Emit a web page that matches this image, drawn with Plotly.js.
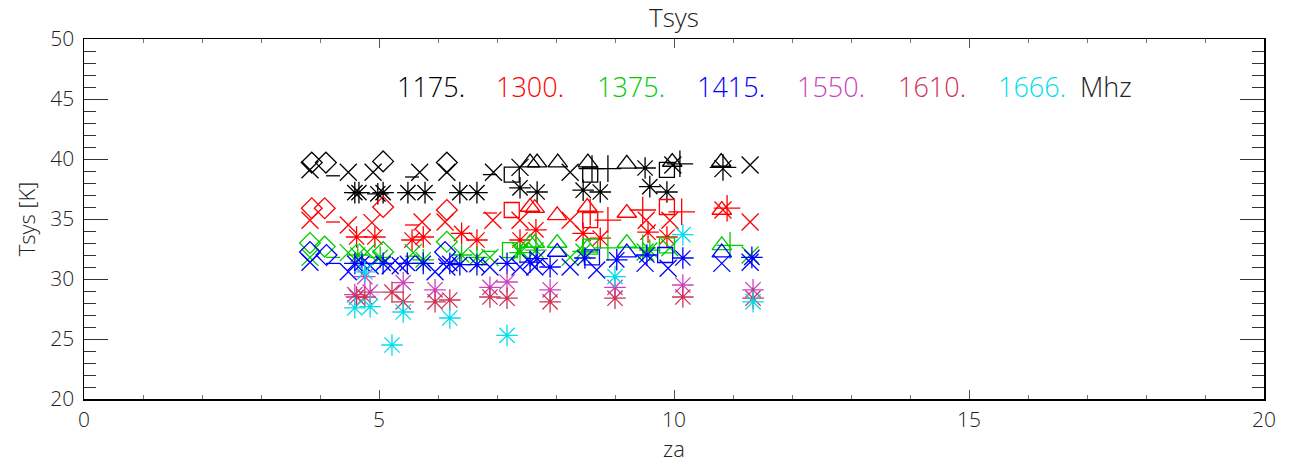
<!DOCTYPE html>
<html>
<head>
<meta charset="utf-8">
<script src="https://cdn.plot.ly/plotly-3.0.1.min.js"></script>
<style>
html,body{margin:0;padding:0;background:#fff;}
#chart{width:1291px;height:466px;}
</style>
</head>
<body>
<div id="chart"></div>
<script>
// ---- data (za in deg, Tsys in K); group codes: D diamond, X cross, A asterisk, S square, T triangle, P plus, M dash
const freqs = ["1175.", "1300.", "1375.", "1415.", "1550.", "1610.", "1666."];
const freqColors = ["#000000", "#ff0000", "#00cc00", "#0000ff", "#cc44bb", "#cc3355", "#00ddee"];

const za_1175 = [3.86,4.10,5.07,6.15, 3.83,4.48,4.90,5.69,6.15,6.94,7.39,8.24,9.98,10.83,11.29, 4.22,5.56,6.88, 4.59,4.66,4.98,5.07,5.49,5.78,6.37,6.66,7.39,7.68,8.46,8.75,9.59,9.88,9.51, 7.25,8.58,9.88, 7.56,7.68,8.03,8.54,9.2,9.97,10.8, 8.61,8.88,10.1,10.83];
const tsys_1175 = [39.7,39.7,39.8,39.7, 39.1,38.9,38.9,38.9,38.9,38.9,39.3,38.9,39.5,39.2,39.5, 38.6,38.5,38.7, 37.2,37.2,37.1,37.2,37.2,37.2,37.2,37.2,37.6,37.25,37.4,37.25,37.7,37.25,39.25, 38.7,38.7,39.1, 39.7,39.7,39.7,39.7,39.6,39.75,39.75, 39.2,39.2,39.6,39.3];
const grp_1175 = ["D","D","D","D", "X","X","X","X","X","X","X","X","X","X","X", "M","M","M", "A","A","A","A","A","A","A","A","A","A","A","A","A","A","A", "S","S","S", "T","T","T","T","T","T","T", "P","P","P","P"];

const za_1300 = [3.86,4.08,5.07,6.15, 3.83,4.48,4.88,5.73,6.12,6.93,7.39,8.24,9.53,9.93,10.83,11.29, 4.22,5.56,6.88, 4.62,4.93,5.56,5.75,6.4,6.66,7.39,7.66,8.46,8.75,9.56,9.88, 7.25,8.58,9.88, 7.56,7.64,8.02,8.53,9.2,10.81, 8.58,8.88,9.47,10.13,10.9];
const tsys_1300 = [35.9,35.9,36.0,35.75, 34.9,34.5,34.7,34.75,34.75,34.9,34.9,34.9,34.9,34.9,35.75,34.75, 34.75,34.5,35.5, 33.5,33.5,33.25,33.5,33.8,33.25,33.25,34.1,33.8,33.4,33.9,33.5, 35.75,34.9,36.0, 36.0,35.9,35.3,36.0,35.5,35.75, 35.6,34.9,35.75,35.6,35.9];
const grp_1300 = ["D","D","D","D", "X","X","X","X","X","X","X","X","X","X","X","X", "M","M","M", "A","A","A","A","A","A","A","A","A","A","A","A", "S","S","S", "T","T","T","T","T","T", "P","P","P","P","P"];

const za_1375 = [3.83,4.08,5.07,6.15, 3.83,4.48,4.80,5.58,6.88,7.39,8.24,9.51,9.93,11.29, 4.22,5.56,6.88, 4.64,5.02,5.75,6.4,6.66,7.39,7.66,8.46,9.59, 7.22,8.58,9.88, 7.56,7.64,8.02,8.53,9.2,10.81, 8.88,9.47,10.95];
const tsys_1375 = [33.0,32.7,32.25,33.1, 31.8,32.2,32.25,32.2,31.8,32.4,31.8,32.25,32.6,32.0, 31.8,31.9,32.3, 32.0,31.8,31.6,32.0,31.8,32.2,32.4,32.3,32.4, 32.4,32.7,32.8, 33.0,33.0,33.0,32.6,33.0,32.8, 32.6,32.6,32.8];
const grp_1375 = ["D","D","D","D", "X","X","X","X","X","X","X","X","X","X", "M","M","M", "A","A","A","A","A","A","A","A","A", "S","S","S", "T","T","T","T","T","T", "P","P","P"];

const za_1415 = [3.83,4.11,6.12, 3.83,4.48,4.85,5.19,5.36,5.95,6.15,6.88,7.39,7.64,8.24,8.69,9.51,9.90,10.81,11.29, 4.22, 4.59,4.71,5.07,5.48,5.75,6.2,6.37,6.66,7.17,7.56,7.68,7.9,8.49,9.03,9.54,10.15,11.32, 8.61,9.85, 8.02,9.2,10.81];
const tsys_1415 = [32.25,32.0,32.25, 31.4,30.6,31.1,31.1,31.1,30.6,31.0,31.0,31.0,31.0,31.0,30.75,31.3,30.9,31.3,31.4, 31.3, 31.3,31.3,31.3,31.3,31.3,31.3,31.2,31.2,31.3,31.4,31.7,31.0,31.75,31.6,32.0,31.75,31.8, 31.8,32.0, 32.25,32.2,32.2];
const grp_1415 = ["D","D","D", "X","X","X","X","X","X","X","X","X","X","X","X","X","X","X","X", "M", "A","A","A","A","A","A","A","A","A","A","A","A","A","A","A","A","A", "S","S", "T","T","T"];

const za_1550 = [4.59,4.76,4.85,5.41,5.95,6.88,7.17,7.9,9.0,10.15,11.34];
const tsys_1550 = [28.7,30.2,28.9,29.7,29.1,29.3,29.75,29.1,29.3,29.5,29.1];
const grp_1550 = ["A","A","A","A","A","A","A","A","A","A","A"];

const za_1610 = [4.62,4.76,5.22,5.41,5.95,6.2,6.88,7.17,7.9,9.0,10.15,11.34];
const tsys_1610 = [28.5,28.5,28.9,28.1,28.1,28.25,28.5,28.4,28.1,28.4,28.5,28.4];
const grp_1610 = ["A","A","A","A","A","A","A","A","A","A","A","A"];

const za_1666 = [4.59,4.76,4.85,5.22,5.41,6.2,7.17,9.0,10.15,11.34];
const tsys_1666 = [27.6,30.6,27.7,24.5,27.25,26.75,25.3,30.2,33.7,28.1];
const grp_1666 = ["A","A","A","A","A","A","A","A","A","A"];

const xTickVals = [0, 5, 10, 15, 20];
const yTickVals = [20, 25, 30, 35, 40, 45, 50];

// ---- build traces
const series = [
  [za_1175, tsys_1175, grp_1175],
  [za_1300, tsys_1300, grp_1300],
  [za_1375, tsys_1375, grp_1375],
  [za_1415, tsys_1415, grp_1415],
  [za_1550, tsys_1550, grp_1550],
  [za_1610, tsys_1610, grp_1610],
  [za_1666, tsys_1666, grp_1666]
];
const symStyle = {
  D: {symbol: "diamond-open", size: 16},
  X: {symbol: "x-thin-open", size: 17},
  A: {symbol: "asterisk-open", size: 18},
  S: {symbol: "square-open", size: 15},
  T: {symbol: "triangle-up-open", size: 17},
  P: {symbol: "cross-thin-open", size: 19},
  M: {symbol: "line-ew-open", size: 10}
};
const traces = [];
series.forEach((s, i) => {
  const [xs, ys, gs] = s;
  Object.keys(symStyle).forEach(g => {
    const xx = [], yy = [];
    gs.forEach((v, k) => { if (v === g) { xx.push(xs[k]); yy.push(ys[k]); } });
    if (!xx.length) return;
    traces.push({
      x: xx, y: yy, type: "scatter", mode: "markers",
      name: freqs[i] + " " + g, showlegend: false, hoverinfo: "x+y",
      marker: {symbol: symStyle[g].symbol, size: symStyle[g].size, color: freqColors[i],
               line: {color: freqColors[i], width: 1.3}}
    });
  });
});

const FONT = "Open Sans, Liberation Sans, sans-serif";
const TXT = "#222222";

// legend text (coloured frequency labels)
const legX = [5.27, 6.95, 8.66, 10.36, 12.05, 13.77, 15.46];
const annotations = freqs.map((f, i) => ({
  x: legX[i], y: 46.08, xref: "x", yref: "y", xanchor: "left", yanchor: "middle",
  text: f, showarrow: false, font: {family: FONT, size: 27, color: freqColors[i], weight: 300}
}));
annotations.push({
  x: 16.85, y: 46.08, xref: "x", yref: "y", xanchor: "left", yanchor: "middle",
  text: "Mhz", showarrow: false, font: {family: FONT, size: 27, color: TXT, weight: 300}
});

const layout = {
  width: 1291, height: 466,
  margin: {l: 84, r: 27, t: 39, b: 67, pad: 0},
  paper_bgcolor: "#ffffff", plot_bgcolor: "#ffffff",
  font: {family: FONT, color: TXT, size: 19, weight: 300},
  title: {text: "Tsys", x: 0.5, xref: "paper", y: 1 - 18/466, yref: "container",
          xanchor: "center", yanchor: "middle", font: {family: FONT, size: 26, color: TXT, weight: 300}},
  xaxis: {
    range: [0, 20], tickvals: xTickVals, ticktext: xTickVals.map(String),
    ticks: "inside", ticklen: 9, tickwidth: 1, tickcolor: "#555",
    minor: {dtick: 1, ticks: "inside", ticklen: 4, tickcolor: "#777", showgrid: false},
    showline: true, linecolor: "#000", linewidth: 1.5, mirror: "ticks",
    showgrid: false, zeroline: false, ticklabelstandoff: 1,
    tickfont: {family: FONT, size: 21, color: TXT, weight: 300},
    title: {text: "za", standoff: 9, font: {family: FONT, size: 22, color: TXT, weight: 300}}
  },
  yaxis: {
    range: [20, 50], tickvals: yTickVals, ticktext: yTickVals.map(String),
    ticks: "inside", ticklen: 24, tickwidth: 1, tickcolor: "#333",
    minor: {dtick: 1, ticks: "inside", ticklen: 12, tickcolor: "#333", showgrid: false},
    showline: true, linecolor: "#000", linewidth: 1.5, mirror: "ticks",
    showgrid: false, zeroline: false, ticklabelstandoff: 4,
    tickfont: {family: FONT, size: 21, color: TXT, weight: 300},
    title: {text: "Tsys [K]", standoff: 8, font: {family: FONT, size: 22, color: TXT, weight: 300}}
  },
  annotations: annotations,
  showlegend: false
};

Plotly.newPlot("chart", traces, layout, {displayModeBar: false, staticPlot: true});
</script>
</body>
</html>
